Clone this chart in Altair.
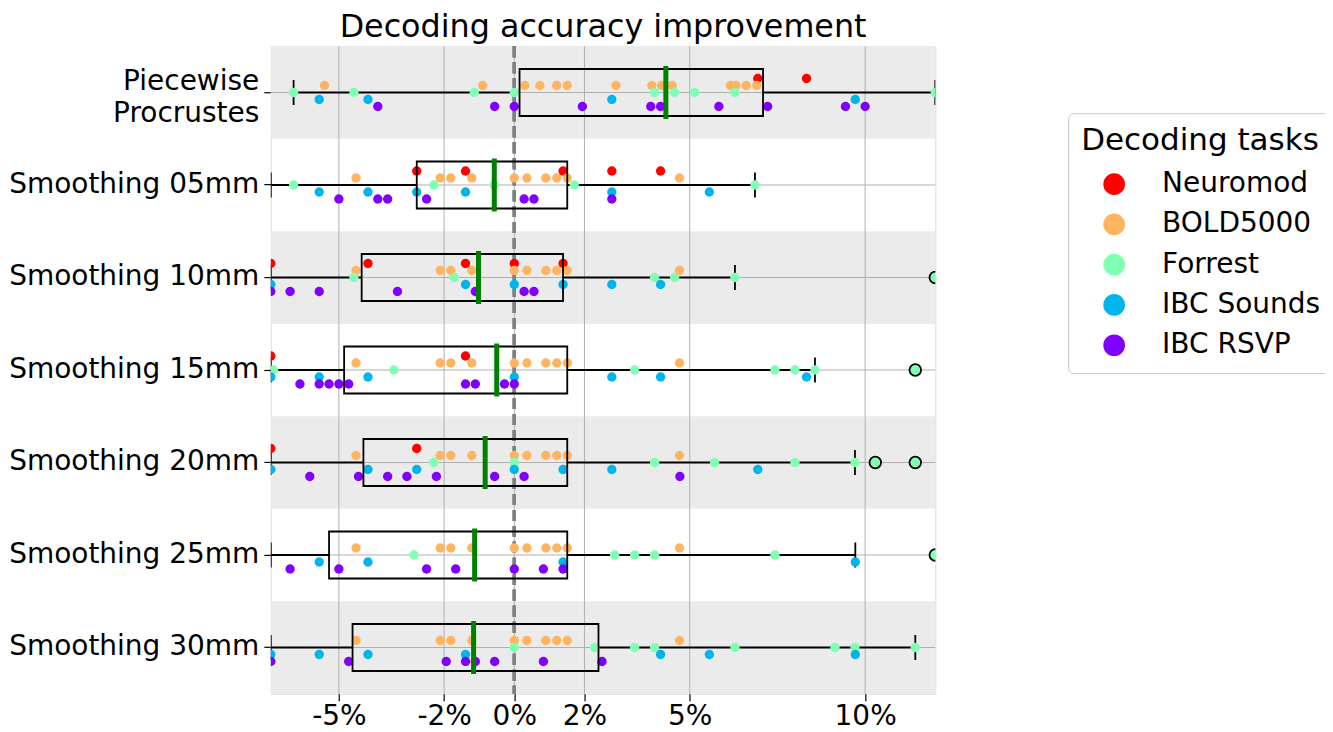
import altair as alt
import pandas as pd

# ---------------- data ----------------
categories = [
    "Piecewise\nProcrustes",
    "Smoothing 05mm",
    "Smoothing 10mm",
    "Smoothing 15mm",
    "Smoothing 20mm",
    "Smoothing 25mm",
    "Smoothing 30mm",
]
tasks = ["Neuromod", "BOLD5000", "Forrest", "IBC Sounds", "IBC RSVP"]
task_colors = ["#ff0000", "#ffb462", "#80ffb4", "#00b5eb", "#8000ff"]

# one list per category (same order as `categories`), values in %
neuromod = [
    [6.94, 8.33],
    [-2.78, -1.39, 1.39, 2.78, 4.17],
    [-6.94, -4.17, -1.39, 0.0, 1.39],
    [-6.94, -1.39],
    [-6.94, -2.78],
    [],
    [],
]
bold5000 = [
    [-5.41, -0.90, 0.30, 0.73, 1.21, 1.51, 2.90, 3.92, 4.20, 4.50, 6.16, 6.32, 6.61, 6.91],
    [-4.51, -2.11, -1.81, -1.21, 0.0, 0.36, 0.90, 1.21, 1.51, 4.71],
    [-4.51, -2.11, -1.81, -1.21, 0.0, 0.36, 0.90, 1.21, 1.51, 4.71],
    [-4.51, -2.11, -1.81, -1.21, 0.0, 0.36, 0.90, 1.21, 1.51, 4.71],
    [-4.51, -2.11, -1.81, -1.21, 0.0, 0.36, 0.90, 1.21, 1.51, 4.71],
    [-4.51, -2.11, -1.81, -1.21, 0.0, 0.36, 0.90, 1.21, 1.51, 4.71],
    [-4.51, -2.11, -1.81, -1.21, 0.0, 0.36, 0.90, 1.21, 1.51, 4.71],
]
forrest = [
    [-6.29, -4.57, -1.14, 0.0, 4.00, 4.57, 5.14, 6.29, 12.0],
    [-6.29, -2.29, -0.57, 1.71, 6.86],
    [-4.57, -1.71, 4.00, 4.57, 6.29, 12.0],
    [-6.86, -3.43, 3.43, 7.43, 8.00, 8.57, 11.43],
    [-2.29, 0.0, 4.00, 5.71, 8.00, 9.71, 10.29, 11.43],
    [-2.86, 2.86, 3.43, 4.00, 7.43, 12.0],
    [0.0, 2.29, 3.43, 4.00, 6.29, 9.14, 9.71, 11.43],
]
ibc_sounds = [
    [-5.56, -4.17, 2.78, 9.72],
    [-5.56, -4.17, -2.78, -1.39, 2.78, 5.56],
    [-6.94, -1.39, 0.0, 1.39, 2.78, 4.17],
    [-6.94, -5.56, -4.17, 0.0, 2.78, 4.17, 8.33],
    [-6.94, -4.17, -2.78, 0.0, 1.39, 2.78, 6.94],
    [-5.56, -4.17, 1.39, 9.72],
    [-6.94, -5.56, -4.17, -1.39, 4.17, 5.56, 9.72],
]
ibc_rsvp = [
    [-3.89, -0.56, 0.0, 1.94, 3.89, 4.17, 5.83, 7.22, 9.44, 10.0],
    [-5.00, -3.89, -3.61, -2.50, 0.28, 0.56, 2.78],
    [-6.94, -6.39, -5.56, -3.33, -1.11, 0.28, 0.56],
    [-6.11, -5.56, -5.28, -5.00, -4.72, -1.39, -1.11, -0.28, 0.0],
    [-5.83, -4.44, -3.61, -3.06, -2.22, -0.56, 0.28, 4.72],
    [-6.39, -5.00, -2.50, -1.67, 0.0, 0.83, 1.39],
    [-6.94, -4.72, -1.94, -1.39, -1.11, -0.56, 0.83, 2.50],
]

# box statistics per category
whisker_low = [-6.29, -6.94, -6.94, -6.94, -6.94, -6.94, -6.94]
q1 = [0.15, -2.78, -4.35, -4.85, -4.30, -5.28, -4.61]
median = [4.32, -0.57, -1.02, -0.50, -0.83, -1.13, -1.16]
q3 = [7.09, 1.51, 1.39, 1.51, 1.51, 1.51, 2.40]
whisker_high = [12.0, 6.86, 6.29, 8.57, 9.71, 9.72, 11.43]

# outliers drawn by the box plot
flier_categories = ["Smoothing 10mm", "Smoothing 15mm", "Smoothing 20mm", "Smoothing 20mm", "Smoothing 25mm"]
flier_tasks = ["Forrest", "Forrest", "Forrest", "Forrest", "Forrest"]
flier_values = [12.0, 11.43, 10.29, 11.43, 12.0]

x_ticks = [-5, -2, 0, 2, 5, 10]
x_min, x_max = -6.94, 12.0
shaded_rows = categories[0::2]

# ---------------- tables ----------------
rows = []
for task, per_cat in zip(tasks, [neuromod, bold5000, forrest, ibc_sounds, ibc_rsvp]):
    for cat, vals in zip(categories, per_cat):
        for v in vals:
            rows.append({"category": cat, "task": task, "value": v})
points_df = pd.DataFrame(rows)

stats_df = pd.DataFrame({
    "category": categories, "wlo": whisker_low, "q1": q1,
    "med": median, "q3": q3, "whi": whisker_high,
})
fliers_df = pd.DataFrame({"category": flier_categories, "task": flier_tasks, "value": flier_values})
bands_df = pd.DataFrame({"category": shaded_rows, "lo": x_min, "hi": x_max})
ticks_df = pd.DataFrame({"v": x_ticks})

FONT = "DejaVu Sans"
PLOT_W, PLOT_H = 665, 648
ROW_H = PLOT_H / len(categories)
LABEL_SIZE = 28

xscale = alt.Scale(domain=[x_min, x_max], nice=False, zero=False)
yscale = alt.Scale(domain=categories, paddingInner=0, paddingOuter=0)
x_axis = alt.Axis(values=x_ticks, labelExpr="datum.value + '%'", grid=False,
                  tickSize=7, labelPadding=2, labelFontSize=LABEL_SIZE, labelFont=FONT,
                  labelColor="black", tickColor="black", tickWidth=1.2,
                  domain=False, title=None, labelFlush=False, labelOverlap=False)
y_axis = alt.Axis(grid=False, tickSize=7, labelPadding=5, labelFontSize=LABEL_SIZE, labelFont=FONT,
                  labelColor="black", tickColor="black", tickWidth=1.2, domain=False,
                  title=None, bandPosition=0.5, labelLineHeight=31.5,
                  labelOffset=alt.ExprRef("indexof(datum.value, '\\n') >= 0 ? -10 : 0"),
                  labelExpr="split(datum.label, '\\n')", labelLimit=400)


def X(field):
    return alt.X(field, type="quantitative", scale=xscale, axis=x_axis, title=None)


def Y():
    return alt.Y("category:N", scale=yscale, axis=y_axis, title=None, sort=categories)


color_enc = alt.Color(
    "task:N",
    scale=alt.Scale(domain=tasks, range=task_colors),
    legend=alt.Legend(
        title="Decoding tasks", orient="none", legendX=798, legendY=67,
        titleFontSize=31, titleFont=FONT, titleFontWeight="normal", titleColor="black",
        titleLimit=500, labelLimit=400,
        labelFontSize=LABEL_SIZE, labelFont=FONT, labelColor="black",
        symbolType="circle", symbolSize=470, symbolStrokeWidth=0,
        padding=13, rowPadding=12.3, labelOffset=34, symbolOffset=19, titlePadding=13,
        strokeColor="#cccccc", fillColor="white", cornerRadius=5,
    ),
)
yoff = alt.YOffset("task:N", scale=alt.Scale(domain=tasks, paddingInner=0, range=[28.8, 63.8]))

bands = alt.Chart(bands_df).mark_bar(color="#ebebeb", size=ROW_H).encode(
    y=Y(), x=X("lo"), x2="hi")

vgrid = alt.Chart(ticks_df).mark_rule(color="#b0b0b0", strokeWidth=1).encode(x=X("v"))
hgrid = alt.Chart(stats_df).mark_rule(color="#b0b0b0", strokeWidth=1).encode(y=Y())

zero_line = alt.Chart(ticks_df).mark_rule(
    color="#808080", strokeWidth=3, strokeDash=[11, 5]
).encode(x=alt.X(datum=0, type="quantitative", scale=xscale, axis=x_axis))

base_stats = alt.Chart(stats_df)
whisk_lo = base_stats.mark_rule(color="black", strokeWidth=1.8, clip=True).encode(
    y=Y(), x=X("wlo"), x2="q1")
whisk_hi = base_stats.mark_rule(color="black", strokeWidth=1.8, clip=True).encode(
    y=Y(), x=X("q3"), x2="whi")
caps = base_stats.transform_fold(["wlo", "whi"], as_=["kind", "cap"]).mark_tick(
    color="black", size=25, thickness=1.8, opacity=1, clip=True
).encode(y=Y(), x=X("cap:Q"))

points = alt.Chart(points_df).mark_circle(size=88, opacity=1, clip=True).encode(
    y=Y(), x=X("value"), yOffset=yoff, color=color_enc)

boxes = base_stats.mark_bar(size=47, fillOpacity=0, stroke="black", strokeWidth=1.8).encode(
    y=Y(), x=X("q1"), x2="q3")
medians = base_stats.mark_tick(color="#008000", size=53, thickness=5, opacity=1).encode(
    y=Y(), x=X("med"))

fliers = alt.Chart(fliers_df).mark_point(
    filled=True, size=135, stroke="black", strokeWidth=1.8, opacity=1, clip=True
).encode(
    y=Y(), x=X("value"), yOffset=yoff,
    fill=alt.Fill("task:N", scale=alt.Scale(domain=tasks, range=task_colors), legend=None),
)

chart = alt.layer(
    bands, vgrid, hgrid, zero_line, whisk_lo, whisk_hi, caps, points, boxes, medians, fliers
).properties(
    width=PLOT_W, height=PLOT_H,
    title=alt.TitleParams("Decoding accuracy improvement", fontSize=31.8, font=FONT,
                          fontWeight="normal", color="black", anchor="middle", offset=1),
    padding={"left": 263, "top": 38, "right": 390, "bottom": 38},
    autosize=alt.AutoSizeParams(type="none"),
).configure_view(stroke="black", strokeWidth=1.5).configure(background="white")

chart.save("out.html", embed_options={"renderer": "svg", "actions": False})
